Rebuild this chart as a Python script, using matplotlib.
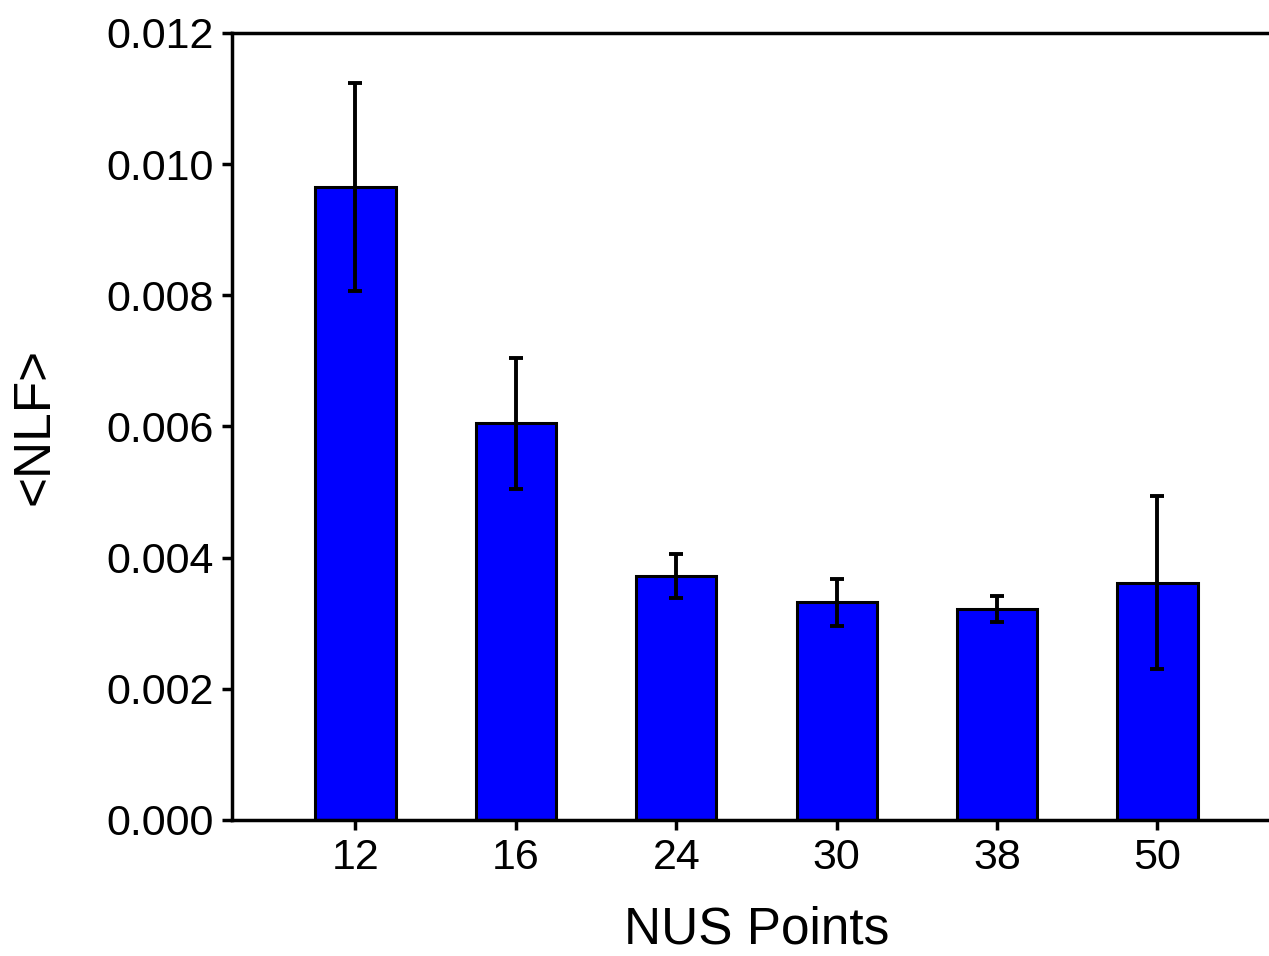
import numpy as np
import matplotlib.pyplot as plt

plt.rcParams['font.family'] = ['Liberation Sans', 'DejaVu Sans']

# --- data ---
nus_points = ["12", "16", "24", "30", "38", "50"]
nlf_mean = [0.00965, 0.00605, 0.00372, 0.00332, 0.00322, 0.00362]
nlf_err = [0.00158, 0.00100, 0.00034, 0.00036, 0.00020, 0.00132]

fig = plt.figure(figsize=(12.69, 9.56), dpi=100)
# axes run a little past the right edge of the figure, as in the reference crop
ax = fig.add_axes([0.1828, 0.1423, 0.8274, 0.8232])

x = np.arange(len(nus_points))
ax.bar(x, nlf_mean, width=0.5, color="#0000ff", edgecolor="black", linewidth=2.2,
       yerr=nlf_err, ecolor="black",
       error_kw=dict(elinewidth=2.8, capsize=5, capthick=2.8))

ax.set_xlim(-0.77, 5.776)
ax.set_ylim(0, 0.012)
ax.set_xticks(x)
ax.set_xticklabels(nus_points)
ax.set_yticks(np.arange(0, 0.0121, 0.002))
ax.yaxis.set_major_formatter(plt.FuncFormatter(lambda v, p: f"{v:.3f}"))

ax.spines["right"].set_visible(False)
for s in ["left", "top", "bottom"]:
    ax.spines[s].set_linewidth(2.5)
ax.tick_params(axis="both", labelsize=31, width=2.5, length=7, direction="out")
ax.tick_params(axis="x", pad=6)
ax.tick_params(axis="y", pad=6)

ax.set_xlabel("NUS Points", fontsize=37, labelpad=20)
ax.set_ylabel("<NLF>", fontsize=37, labelpad=34)

fig.savefig("out.png", dpi=100)
